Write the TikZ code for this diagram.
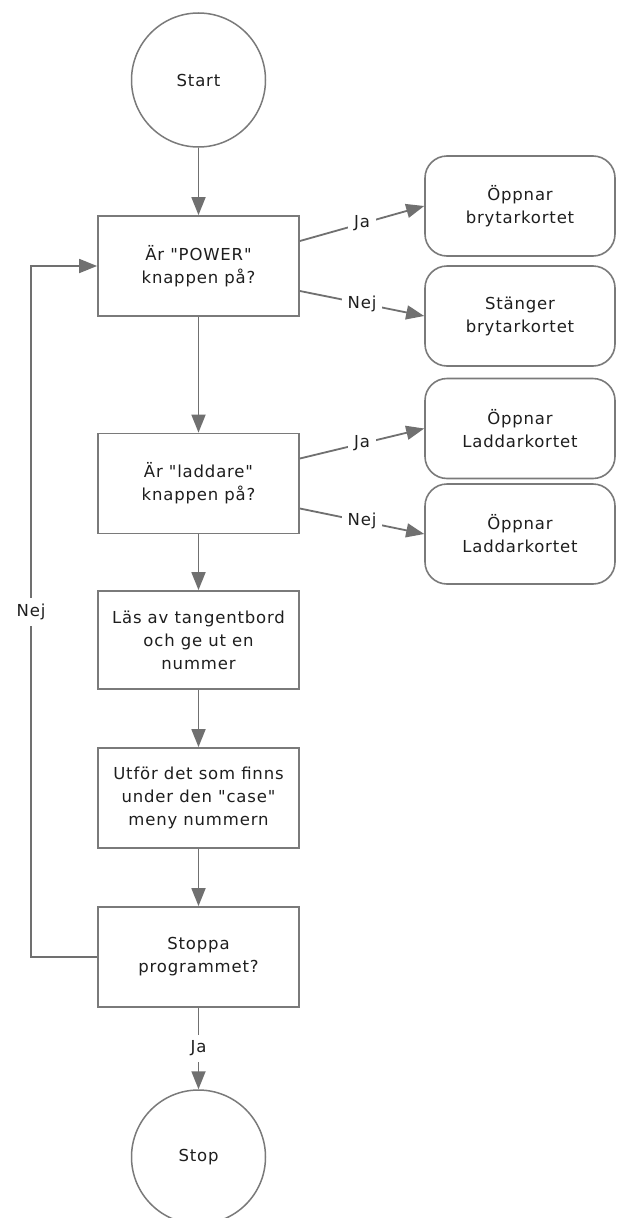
\documentclass[tikz,border=0pt]{standalone}
\usepackage{fontspec}
\newfontfamily\dvfont[LetterSpace=5]{DejaVu Sans}
\usetikzlibrary{arrows.meta}
\definecolor{linegray}{HTML}{707070}
\definecolor{boxgray}{HTML}{7A7A7A}
\definecolor{txt}{HTML}{1E1E1E}
\begin{document}
\begin{tikzpicture}[x=1pt,y=-1pt,
  every node/.style={font=\dvfont\fontsize{16.5}{23}\selectfont, text=txt, align=center},
  procbox/.style={draw=boxgray, line width=1.8pt, fill=white, minimum width=201pt, minimum height=100pt, inner sep=0pt},
  termcirc/.style={draw=boxgray, line width=1.5pt, circle, minimum size=134pt, inner sep=0pt},
  roundbox/.style={draw=boxgray, line width=1.6pt, rounded corners=22pt, minimum width=190pt, minimum height=100pt, inner sep=0pt},
  arr/.style={draw=linegray, line width=1.8pt, -{Triangle[length=18pt,width=14pt]}},
  lab/.style={fill=white, inner xsep=6pt, inner ysep=6pt}
]
\useasboundingbox (0,0) rectangle (616,1218);
\fill[white] (0,0) rectangle (616,1218);

\node[termcirc] (start) at (198.5,80) {Start};
\node[procbox] (b1) at (198.5,266) {Är "POWER"\\knappen på?};
\node[procbox] (b2) at (198.5,483.5) {Är "laddare"\\knappen på?};
\node[procbox, minimum height=98pt] (b3) at (198.5,640) {Läs av tangentbord\\och ge ut en\\nummer};
\node[procbox] (b4) at (198.5,798) {Utför det som finns\\under den "case"\\meny nummern};
\node[procbox] (b5) at (198.5,957) {Stoppa\\programmet?};
\node[termcirc] (stop) at (198.5,1157) {Stop};

\node[roundbox] (r1) at (520,206) {Öppnar\\brytarkortet};
\node[roundbox] (r2) at (520,316) {Stänger\\brytarkortet};
\node[roundbox] (r3) at (520,428.5) {Öppnar\\Laddarkortet};
\node[roundbox] (r4) at (520,534) {Öppnar\\Laddarkortet};

\coordinate (loopc) at (31,612);

\draw[arr] (start) -- (b1);
\draw[arr] (b1) -- (b2);
\draw[arr] (b2) -- (b3);
\draw[arr] (b3) -- (b4);
\draw[arr] (b4) -- (b5);
\draw[arr] (b5) -- node[lab]{Ja} (stop);

\draw[arr] ([yshift=25pt]b1.east) -- node[lab]{Ja} (r1.west);
\draw[arr] ([yshift=-25pt]b1.east) -- node[lab]{Nej} (r2.west);
\draw[arr] ([yshift=25pt]b2.east) -- node[lab]{Ja} (r3.west);
\draw[arr] ([yshift=-25pt]b2.east) -- node[lab]{Nej} (r4.west);

\draw[arr] (b5.west) -| node[at end, lab]{Nej} (loopc) |- (b1.west);
\end{tikzpicture}
\end{document}
